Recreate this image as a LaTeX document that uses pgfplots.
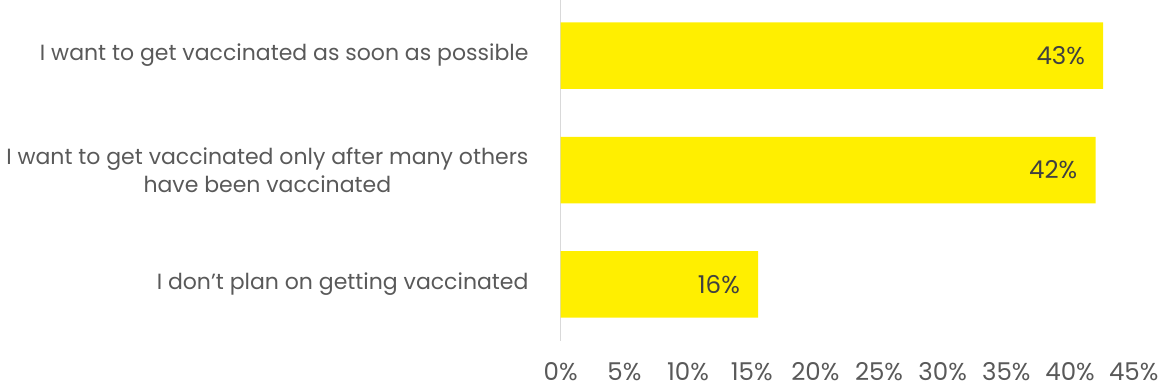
\documentclass[border=0pt]{standalone}
\usepackage{fontspec}
\setmainfont{Poppins}
\usepackage{pgfplots}
\pgfplotsset{compat=1.18}
\definecolor{barY}{HTML}{FFEF00}
\definecolor{txtG}{HTML}{595959}
\definecolor{lblG}{HTML}{404040}
\definecolor{axG}{HTML}{D9D9D9}
\begin{document}
\begin{tikzpicture}
\useasboundingbox (0,0) rectangle (1159pt,387pt);
\begin{axis}[
  at={(560.7pt,46.3pt)}, anchor=south west,
  scale only axis, width=573pt, height=340.7pt,
  xbar, bar width=66.5pt,
  xmin=0, xmax=45,
  ymin=-0.485, ymax=2.491, y dir=reverse,
  ytick={0,1,2},
  yticklabels={I want to get vaccinated as soon as possible,{I want to get vaccinated only after many others\\have been vaccinated},I don’t plan on getting vaccinated},
  xtick={0,5,...,45},
  xticklabel={\pgfmathprintnumber{\tick}\%},
  /pgf/number format/assume math mode=true,
  major tick length=0pt,
  axis y line*=left, axis x line*=bottom,
  x axis line style={draw=none},
  y axis line style={draw=axG, line width=1.5pt},
  yticklabel style={align=center, inner sep=0pt, xshift=-32pt, text=txtG, font=\fontsize{22}{28}\selectfont},
  xticklabel style={anchor=base, inner sep=0pt, yshift=-40pt, text=txtG, font=\fontsize{24.5}{26}\selectfont},
  nodes near coords,
  point meta=explicit symbolic,
  nodes near coords style={anchor=east, inner sep=0pt, xshift=-18pt, text=lblG, font=\fontsize{24.5}{26}\selectfont},
]
\addplot[fill=barY, draw=none] coordinates {(42.6,0) [43\%] (42.0,1) [42\%] (15.5,2) [16\%]};
\end{axis}
\end{tikzpicture}
\end{document}
